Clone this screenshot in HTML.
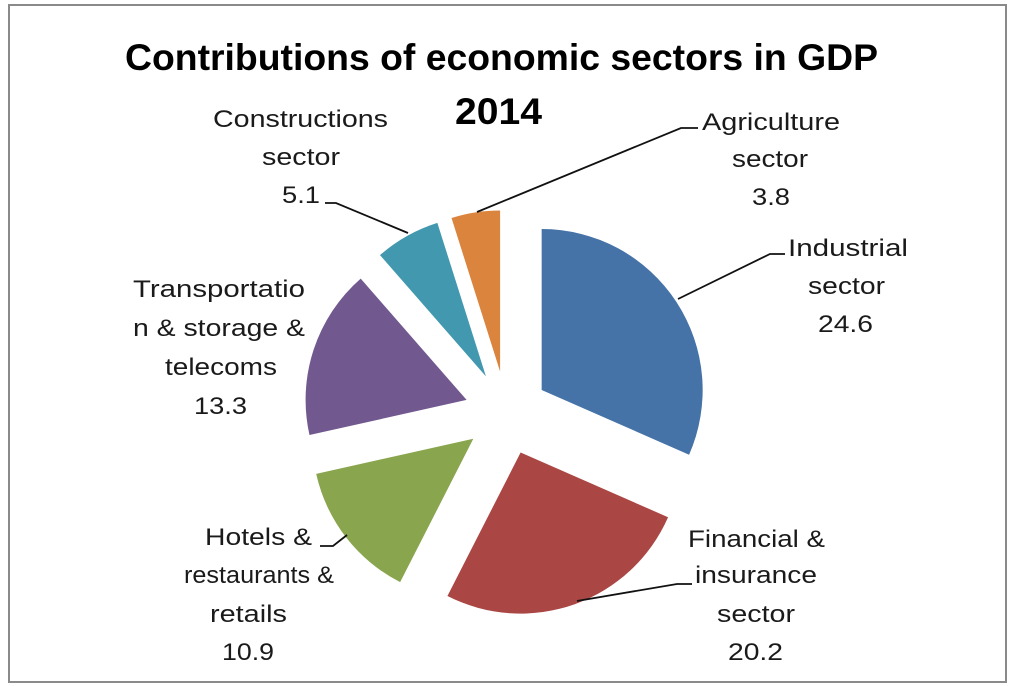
<!DOCTYPE html>
<html>
<head>
<meta charset="utf-8">
<style>
  html, body { margin: 0; padding: 0; background: #ffffff; }
  svg { display: block; }
  text { font-family: "Liberation Sans", "DejaVu Sans", sans-serif; }
</style>
</head>
<body>
<svg width="1013" height="686" viewBox="0 0 1013 686" xmlns="http://www.w3.org/2000/svg">
  <rect x="0" y="0" width="1013" height="686" fill="#ffffff"/>
  <rect x="9" y="5" width="997" height="677" fill="#ffffff" stroke="#8a8a8a" stroke-width="2"/>

  <!-- Pie slices -->
  <path d="M541.66,390.03 L541.66,229.03 A161,161 0 0 1 689.10,454.69 Z" fill="#4572A7"/>
  <path d="M520.62,452.56 L668.06,517.22 A161,161 0 0 1 447.45,595.98 Z" fill="#AA4643"/>
  <path d="M473.31,438.74 L400.14,582.16 A161,161 0 0 1 316.19,473.85 Z" fill="#89A54E"/>
  <path d="M466.59,399.93 L309.47,435.04 A161,161 0 0 1 360.70,278.65 Z" fill="#71588F"/>
  <path d="M485.92,376.39 L380.03,255.11 A161,161 0 0 1 437.35,222.89 Z" fill="#4198AF"/>
  <path d="M500.09,371.49 L451.52,217.99 A161,161 0 0 1 500.09,210.49 Z" fill="#DB843D"/>

  <!-- Leader lines -->
  <g fill="none" stroke="#111" stroke-width="1.8">
    <polyline points="325,203 336,203 408,233"/>
    <polyline points="698,128 681,128 477,212"/>
    <polyline points="785,254 770,254 678,299"/>
    <polyline points="320,546 333,546 347,535"/>
    <polyline points="692,584 677,584 577,601"/>
  </g>

  <!-- Title -->
  <g fill="#000" font-weight="bold" font-size="37">
    <text x="125" y="70" textLength="753" lengthAdjust="spacingAndGlyphs">Contributions of economic sectors in GDP</text>
    <text x="455" y="124" textLength="87" lengthAdjust="spacingAndGlyphs">2014</text>
  </g>

  <!-- Labels -->
  <g fill="#1a1a1a" font-size="24">
    <text x="213" y="127" textLength="175" lengthAdjust="spacingAndGlyphs">Constructions</text>
    <text x="262" y="165" textLength="78" lengthAdjust="spacingAndGlyphs">sector</text>
    <text x="282" y="203" textLength="38" lengthAdjust="spacingAndGlyphs">5.1</text>

    <text x="702" y="130" textLength="138" lengthAdjust="spacingAndGlyphs">Agriculture</text>
    <text x="732" y="167" textLength="76" lengthAdjust="spacingAndGlyphs">sector</text>
    <text x="752" y="205" textLength="38" lengthAdjust="spacingAndGlyphs">3.8</text>

    <text x="788" y="256" textLength="120" lengthAdjust="spacingAndGlyphs">Industrial</text>
    <text x="808" y="294" textLength="77" lengthAdjust="spacingAndGlyphs">sector</text>
    <text x="818" y="332" textLength="55" lengthAdjust="spacingAndGlyphs">24.6</text>

    <text x="133" y="297" textLength="172" lengthAdjust="spacingAndGlyphs">Transportatio</text>
    <text x="133" y="336" textLength="172" lengthAdjust="spacingAndGlyphs">n &amp; storage &amp;</text>
    <text x="165" y="375" textLength="112" lengthAdjust="spacingAndGlyphs">telecoms</text>
    <text x="194" y="414" textLength="53" lengthAdjust="spacingAndGlyphs">13.3</text>

    <text x="205" y="545" textLength="107" lengthAdjust="spacingAndGlyphs">Hotels &amp;</text>
    <text x="184" y="583" textLength="150" lengthAdjust="spacingAndGlyphs">restaurants &amp;</text>
    <text x="210" y="622" textLength="77" lengthAdjust="spacingAndGlyphs">retails</text>
    <text x="222" y="660" textLength="52" lengthAdjust="spacingAndGlyphs">10.9</text>

    <text x="688" y="547" textLength="137" lengthAdjust="spacingAndGlyphs">Financial &amp;</text>
    <text x="695" y="583" textLength="122" lengthAdjust="spacingAndGlyphs">insurance</text>
    <text x="717" y="622" textLength="78" lengthAdjust="spacingAndGlyphs">sector</text>
    <text x="728" y="660" textLength="55" lengthAdjust="spacingAndGlyphs">20.2</text>
  </g>
</svg>
</body>
</html>
